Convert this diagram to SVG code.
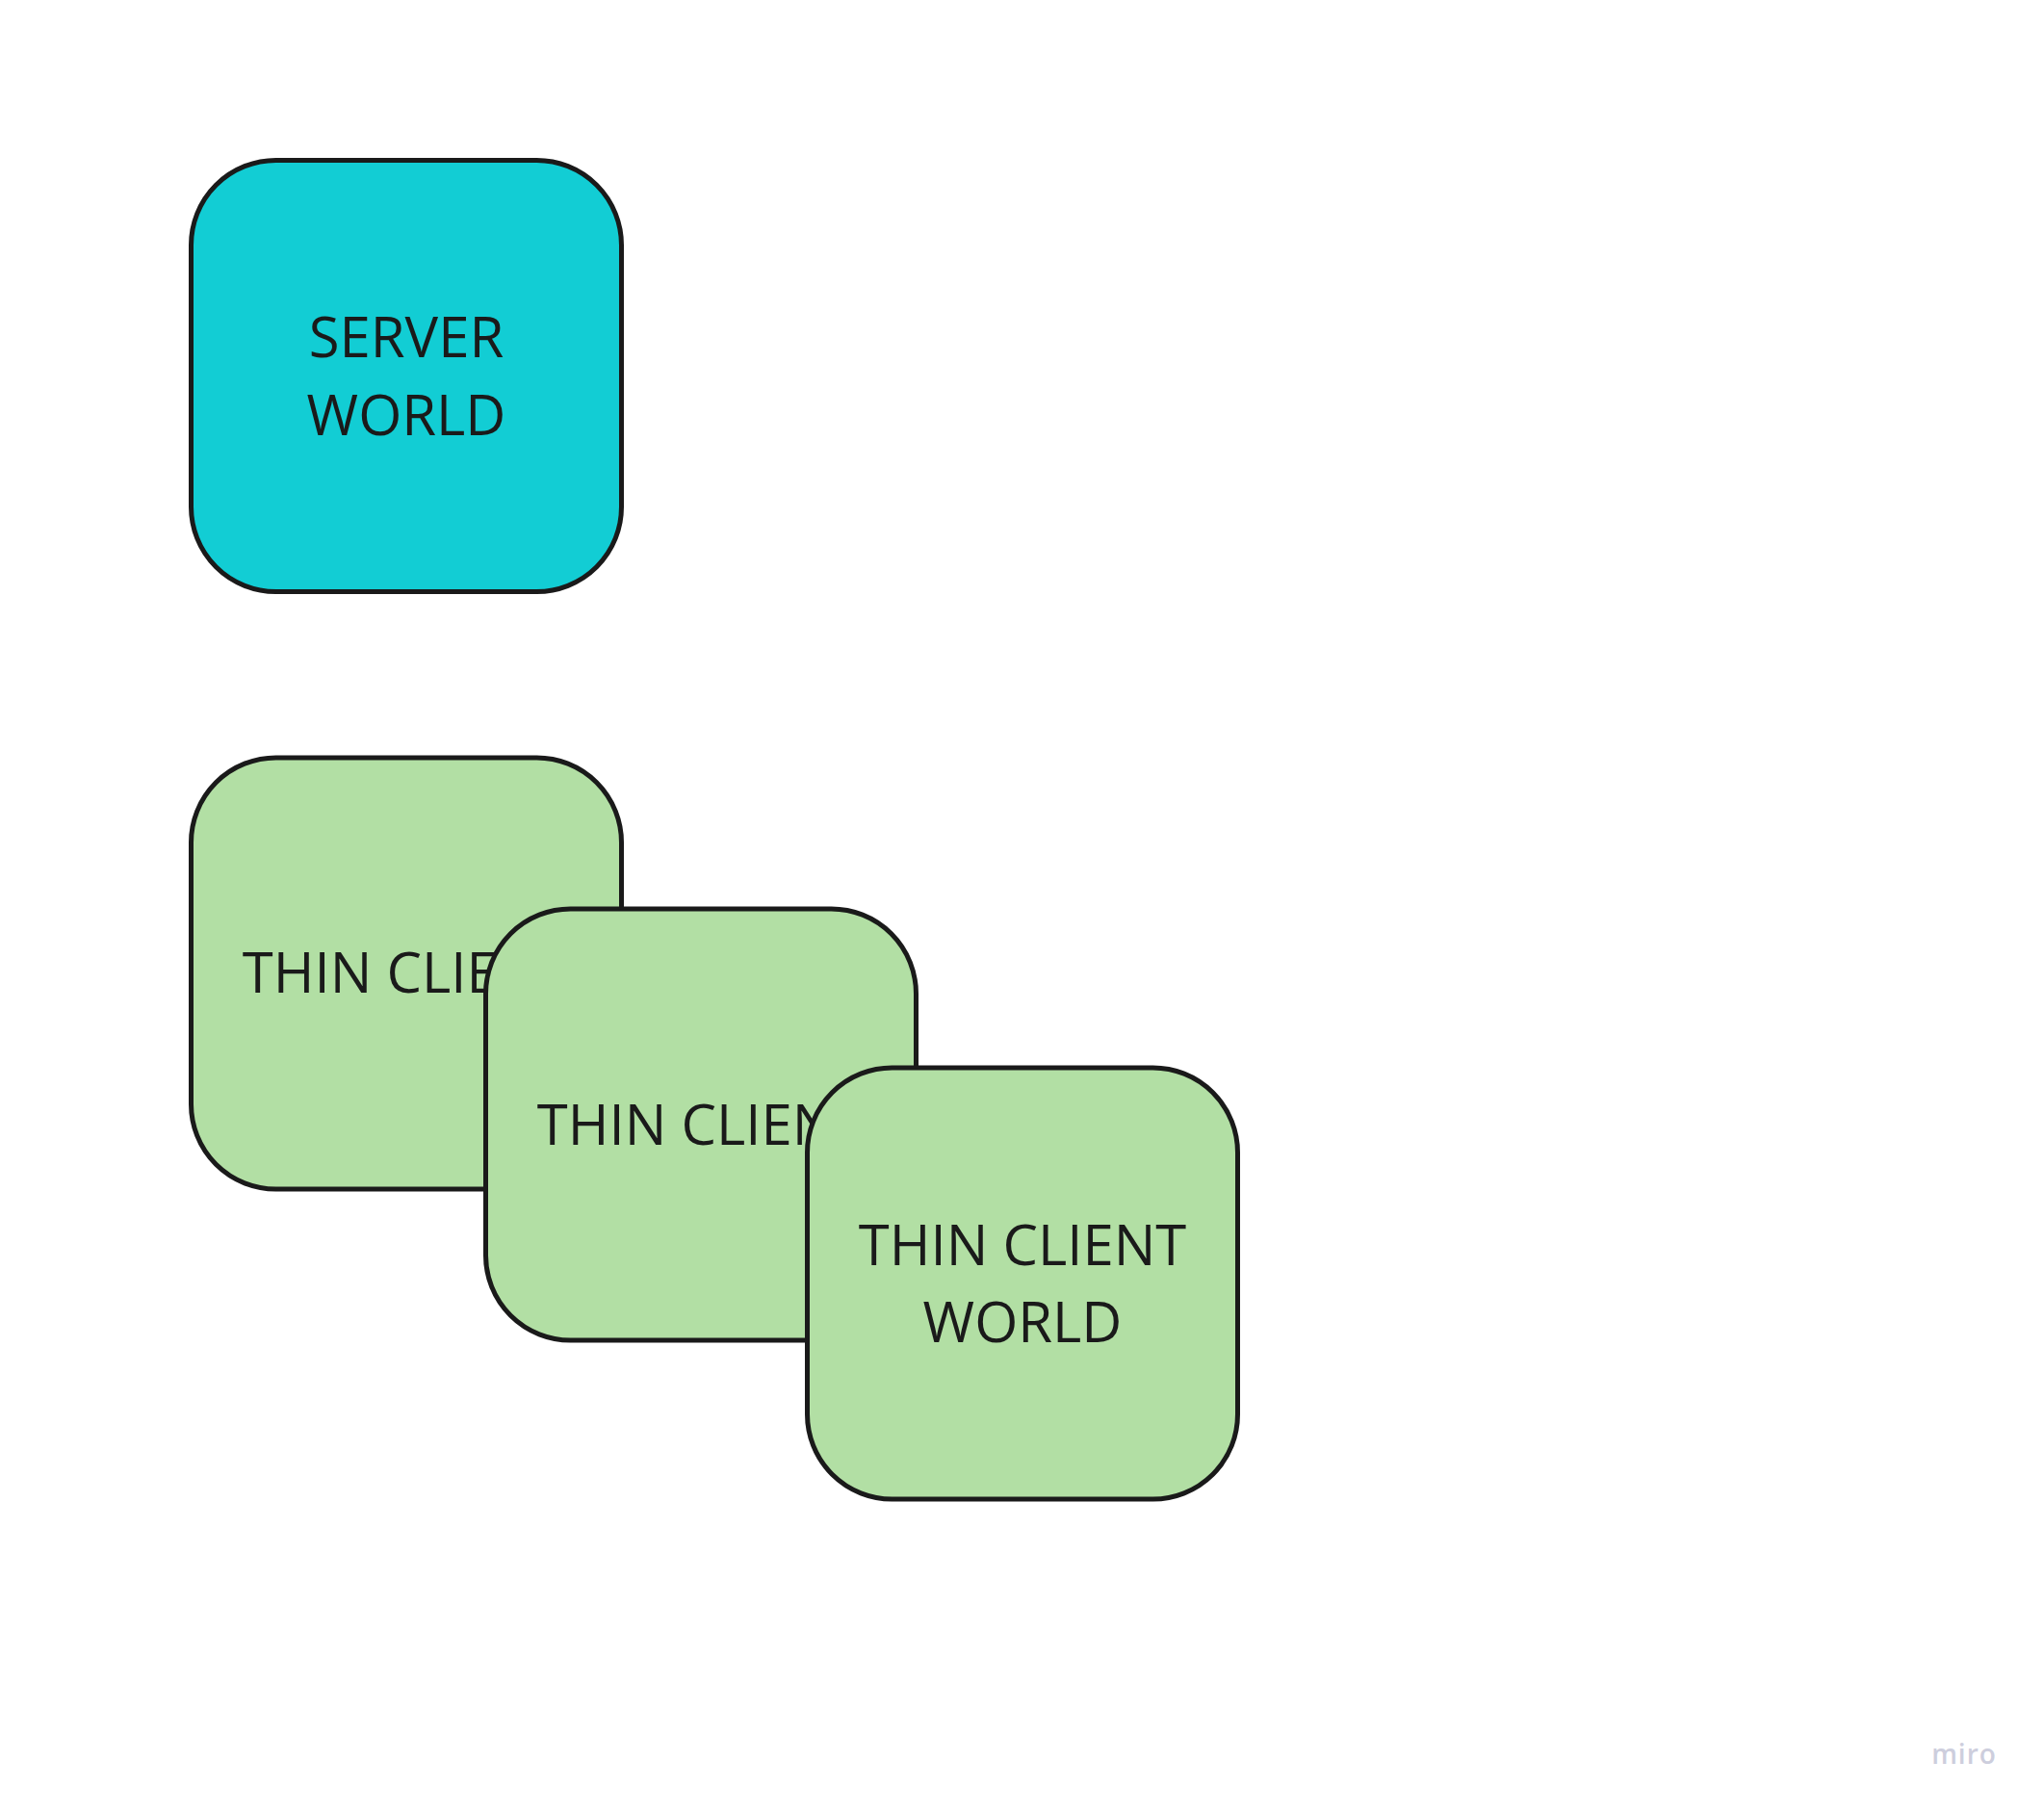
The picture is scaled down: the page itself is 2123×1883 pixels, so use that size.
<svg xmlns="http://www.w3.org/2000/svg" width="2123" height="1883" viewBox="0 0 2123 1883">
<style>
.box{stroke:#1a1a1a;stroke-width:5}
.server{fill:#12cdd4}
.client{fill:#b2dfa4}
.lbl{font-family:"Open Sans","Liberation Sans",sans-serif;font-size:58px;fill:#1a1a1a;text-anchor:middle}
.wm{font-family:"Open Sans","Liberation Sans",sans-serif;font-size:28px;font-weight:600;fill:#cdcedd;text-anchor:middle;letter-spacing:1px}
</style>
<rect width="2123" height="1883" fill="#ffffff"/>
<g id="connectors"></g>
<g id="server-world">
<rect class="box server" x="198.5" y="166.5" width="447" height="448" rx="88" ry="88"/>
<text class="lbl" x="422" y="371">SERVER</text>
<text class="lbl" x="422" y="452">WORLD</text>
</g>
<g id="thin-client-1">
<rect class="box client" x="198.5" y="787" width="447" height="448" rx="88" ry="88"/>
<text class="lbl" x="422" y="1031">THIN CLIENT</text>
</g>
<g id="thin-client-2">
<rect class="box client" x="504.5" y="944" width="447" height="448" rx="88" ry="88"/>
<text class="lbl" x="728" y="1189">THIN CLIENT</text>
</g>
<g id="thin-client-world">
<rect class="box client" x="838.5" y="1109" width="447" height="448" rx="88" ry="88"/>
<text class="lbl" x="1062" y="1314">THIN CLIENT</text>
<text class="lbl" x="1062" y="1394">WORLD</text>
</g>
<text class="wm" x="2040" y="1832">miro</text>
</svg>
